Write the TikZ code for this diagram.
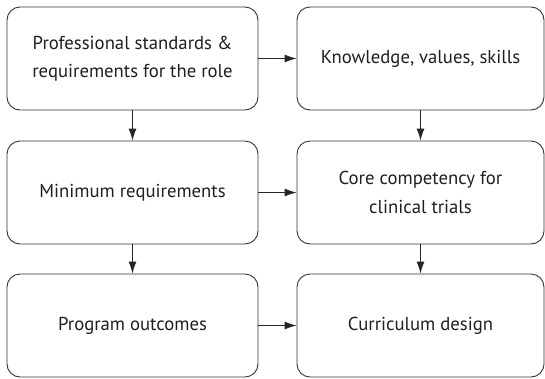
\documentclass[tikz,border=0pt]{standalone}
\usepackage{fontspec}
\setmainfont{PT Sans}
\usetikzlibrary{arrows.meta}
\begin{document}
\begin{tikzpicture}[x=1pt,y=-1pt,
  box/.style={draw=black!80, line width=0.9pt, rounded corners=13pt,
    minimum height=103pt, inner sep=0pt, align=center, text=black!88,
    font=\fontsize{18.7}{28.5}\selectfont},
  lbox/.style={box, minimum width=251pt},
  rbox/.style={box, minimum width=247pt},
  arr/.style={draw=black!85, line width=0.9pt, -{Latex[length=12pt,width=8pt]}}]
\useasboundingbox (0,0) rectangle (545,378);
\node[lbox] (A) at (132.5,58.5) {Professional standards \&\\requirements for the role};
\node[rbox] (B) at (420.5,58.5) {Knowledge, values, skills};
\node[lbox] (C) at (132.5,192.5) {Minimum requirements};
\node[rbox] (D) at (420.5,192.5) {Core competency for\\clinical trials};
\node[lbox] (E) at (132.5,325.5) {Program outcomes};
\node[rbox] (F) at (420.5,325.5) {Curriculum design};
\draw[arr] (A) -- (B);
\draw[arr] (C) -- (D);
\draw[arr] (E) -- (F);
\draw[arr] (A) -- (C);
\draw[arr] (C) -- (E);
\draw[arr] (B) -- (D);
\draw[arr] (D) -- (F);
\end{tikzpicture}
\end{document}
